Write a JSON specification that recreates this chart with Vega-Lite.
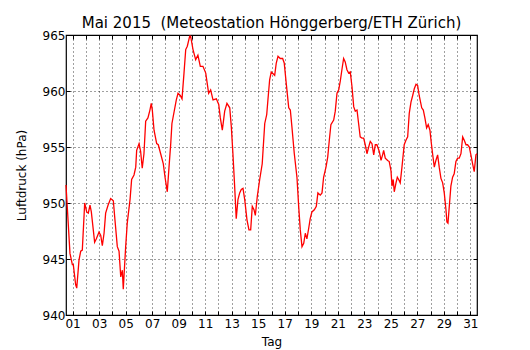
{
  "$schema": "https://vega.github.io/schema/vega-lite/v6.json",
  "width": 411,
  "height": 280,
  "autosize": {"type": "none"},
  "padding": {"left": 66, "top": 35, "right": 53, "bottom": 35},
  "background": "white",
  "title": {"text": "Mai 2015\u00a0 (Meteostation Hönggerberg/ETH Zürich)", "font": "DejaVu Sans", "fontSize": 15, "fontWeight": "normal", "color": "black", "offset": -2, "anchor": "middle"},
  "config": {
    "view": {"stroke": "black", "strokeWidth": 1.2},
    "axis": {"labelFont": "DejaVu Sans", "titleFont": "DejaVu Sans", "labelFontSize": 12, "titleFontSize": 12, "titleFontWeight": "normal", "labelColor": "black", "titleColor": "black", "domain": false, "tickColor": "black", "tickSize": -4, "gridColor": "black", "gridDash": [1, 3], "gridOpacity": 0.75, "gridWidth": 1}
  },
  "data": {"values": [
    {"d":0.50,"p":951.6},{"d":0.80,"p":945.5},{"d":0.98,"p":944.5},{"d":1.05,"p":944.5},{"d":1.23,"p":942.7},{"d":1.31,"p":942.4},{"d":1.48,"p":944.9},{"d":1.61,"p":945.7},{"d":1.73,"p":945.8},{"d":1.91,"p":950.0},{"d":2.06,"p":949.2},{"d":2.18,"p":949.1},{"d":2.31,"p":949.8},{"d":2.41,"p":949.2},{"d":2.66,"p":946.5},{"d":2.79,"p":946.8},{"d":2.99,"p":947.4},{"d":3.12,"p":947.1},{"d":3.24,"p":946.2},{"d":3.37,"p":947.3},{"d":3.49,"p":949.1},{"d":3.67,"p":949.8},{"d":3.87,"p":950.4},{"d":4.07,"p":950.2},{"d":4.17,"p":948.8},{"d":4.37,"p":946.1},{"d":4.50,"p":945.7},{"d":4.63,"p":943.4},{"d":4.75,"p":944.0},{"d":4.82,"p":942.3},{"d":5.00,"p":946.1},{"d":5.12,"p":948.2},{"d":5.33,"p":950.3},{"d":5.45,"p":952.1},{"d":5.63,"p":952.5},{"d":5.76,"p":953.2},{"d":5.83,"p":954.7},{"d":6.01,"p":955.3},{"d":6.13,"p":954.6},{"d":6.25,"p":953.1},{"d":6.38,"p":954.4},{"d":6.51,"p":957.3},{"d":6.68,"p":957.6},{"d":6.83,"p":958.3},{"d":6.93,"p":958.9},{"d":7.01,"p":958.3},{"d":7.14,"p":956.5},{"d":7.34,"p":955.3},{"d":7.46,"p":955.2},{"d":7.64,"p":954.4},{"d":7.84,"p":953.5},{"d":7.97,"p":952.3},{"d":8.14,"p":951.0},{"d":8.27,"p":953.2},{"d":8.40,"p":955.3},{"d":8.49,"p":957.1},{"d":8.82,"p":959.2},{"d":8.95,"p":959.8},{"d":9.12,"p":959.6},{"d":9.25,"p":959.3},{"d":9.40,"p":961.6},{"d":9.53,"p":963.7},{"d":9.65,"p":964.0},{"d":9.83,"p":964.9},{"d":9.90,"p":964.9},{"d":10.08,"p":963.7},{"d":10.28,"p":962.8},{"d":10.45,"p":963.2},{"d":10.63,"p":962.2},{"d":10.83,"p":962.2},{"d":11.04,"p":961.6},{"d":11.26,"p":959.8},{"d":11.41,"p":960.1},{"d":11.59,"p":959.2},{"d":11.84,"p":959.3},{"d":12.02,"p":958.8},{"d":12.14,"p":957.6},{"d":12.29,"p":956.5},{"d":12.47,"p":958.2},{"d":12.64,"p":958.9},{"d":12.85,"p":958.5},{"d":12.97,"p":956.8},{"d":13.09,"p":954.4},{"d":13.22,"p":951.5},{"d":13.34,"p":948.6},{"d":13.47,"p":950.3},{"d":13.60,"p":950.9},{"d":13.72,"p":951.2},{"d":13.85,"p":951.3},{"d":13.98,"p":950.3},{"d":14.15,"p":948.5},{"d":14.30,"p":947.6},{"d":14.43,"p":947.6},{"d":14.55,"p":949.7},{"d":14.68,"p":949.4},{"d":14.78,"p":948.9},{"d":14.93,"p":950.6},{"d":15.11,"p":952.1},{"d":15.30,"p":953.5},{"d":15.49,"p":957.1},{"d":15.64,"p":957.9},{"d":15.73,"p":959.2},{"d":15.86,"p":961.0},{"d":15.98,"p":961.7},{"d":16.24,"p":961.4},{"d":16.36,"p":962.5},{"d":16.49,"p":963.1},{"d":16.66,"p":962.9},{"d":16.84,"p":962.9},{"d":16.96,"p":962.5},{"d":17.11,"p":960.7},{"d":17.30,"p":958.5},{"d":17.42,"p":958.3},{"d":17.54,"p":956.8},{"d":17.72,"p":954.4},{"d":17.92,"p":952.3},{"d":18.05,"p":949.7},{"d":18.17,"p":947.6},{"d":18.30,"p":946.1},{"d":18.43,"p":946.4},{"d":18.55,"p":947.3},{"d":18.67,"p":946.8},{"d":18.80,"p":947.7},{"d":18.92,"p":948.6},{"d":19.05,"p":949.2},{"d":19.23,"p":949.4},{"d":19.38,"p":949.7},{"d":19.50,"p":950.9},{"d":19.68,"p":950.7},{"d":19.81,"p":950.9},{"d":19.93,"p":952.3},{"d":20.11,"p":953.2},{"d":20.24,"p":954.1},{"d":20.36,"p":955.6},{"d":20.48,"p":957.0},{"d":20.69,"p":957.4},{"d":20.81,"p":958.2},{"d":20.94,"p":959.8},{"d":21.07,"p":960.1},{"d":21.19,"p":960.9},{"d":21.31,"p":961.9},{"d":21.44,"p":962.9},{"d":21.56,"p":962.6},{"d":21.69,"p":961.9},{"d":21.82,"p":961.6},{"d":21.94,"p":961.7},{"d":22.07,"p":960.4},{"d":22.20,"p":958.6},{"d":22.32,"p":958.2},{"d":22.45,"p":958.3},{"d":22.57,"p":957.1},{"d":22.69,"p":955.9},{"d":22.82,"p":955.8},{"d":22.95,"p":955.8},{"d":23.07,"p":955.2},{"d":23.20,"p":954.4},{"d":23.33,"p":955.0},{"d":23.45,"p":955.5},{"d":23.58,"p":955.3},{"d":23.71,"p":954.3},{"d":23.83,"p":955.2},{"d":23.95,"p":955.2},{"d":24.13,"p":954.6},{"d":24.26,"p":953.8},{"d":24.38,"p":954.3},{"d":24.46,"p":954.7},{"d":24.58,"p":954.0},{"d":24.76,"p":953.8},{"d":24.88,"p":953.7},{"d":25.01,"p":952.9},{"d":25.09,"p":951.5},{"d":25.18,"p":952.1},{"d":25.26,"p":951.0},{"d":25.39,"p":951.8},{"d":25.49,"p":952.3},{"d":25.59,"p":952.1},{"d":25.71,"p":951.8},{"d":25.84,"p":953.2},{"d":26.01,"p":955.2},{"d":26.14,"p":955.6},{"d":26.27,"p":955.9},{"d":26.39,"p":958.0},{"d":26.52,"p":959.0},{"d":26.65,"p":959.6},{"d":26.77,"p":960.2},{"d":26.90,"p":960.6},{"d":27.02,"p":960.5},{"d":27.14,"p":959.6},{"d":27.33,"p":958.5},{"d":27.45,"p":958.3},{"d":27.57,"p":957.6},{"d":27.70,"p":956.7},{"d":27.82,"p":957.0},{"d":27.95,"p":956.5},{"d":28.03,"p":955.6},{"d":28.15,"p":954.4},{"d":28.28,"p":953.2},{"d":28.40,"p":953.8},{"d":28.53,"p":954.3},{"d":28.65,"p":953.2},{"d":28.78,"p":952.2},{"d":28.91,"p":951.8},{"d":29.03,"p":950.9},{"d":29.16,"p":949.4},{"d":29.23,"p":948.3},{"d":29.31,"p":948.2},{"d":29.41,"p":949.7},{"d":29.53,"p":951.5},{"d":29.66,"p":952.3},{"d":29.78,"p":952.6},{"d":29.91,"p":953.7},{"d":30.04,"p":954.0},{"d":30.16,"p":954.0},{"d":30.29,"p":954.4},{"d":30.42,"p":955.9},{"d":30.54,"p":955.6},{"d":30.67,"p":955.2},{"d":30.79,"p":955.2},{"d":30.92,"p":955.0},{"d":31.04,"p":954.3},{"d":31.17,"p":953.5},{"d":31.29,"p":952.8},{"d":31.42,"p":954.3},{"d":31.50,"p":954.4}
  ]},
  "layer": [
    {
      "mark": {"type": "line", "color": "#ff0000", "strokeWidth": 1.3},
      "encoding": {
        "x": {"field": "d", "type": "quantitative", "scale": {"domain": [0.5, 31.5], "nice": false, "zero": false},
          "axis": {"orient": "bottom", "title": "Tag", "titlePadding": 7, "values": [1,2,3,4,5,6,7,8,9,10,11,12,13,14,15,16,17,18,19,20,21,22,23,24,25,26,27,28,29,30,31], "labelExpr": "datum.value % 2 == 1 ? (datum.value < 10 ? '0' + datum.value : '' + datum.value) : ''", "labelPadding": 7, "grid": true, "labelOverlap": false}},
        "y": {"field": "p", "type": "quantitative", "scale": {"domain": [940, 965], "nice": false, "zero": false},
          "axis": {"orient": "left", "title": "Luftdruck (hPa)", "values": [940, 945, 950, 955, 960, 965], "labelPadding": 5, "titlePadding": 14, "grid": true}}
      }
    },
    {
      "mark": {"type": "line", "opacity": 0},
      "encoding": {
        "x": {"field": "d", "type": "quantitative", "axis": {"orient": "top", "title": null, "labels": false, "grid": false, "values": [1,2,3,4,5,6,7,8,9,10,11,12,13,14,15,16,17,18,19,20,21,22,23,24,25,26,27,28,29,30,31]}},
        "y": {"field": "p", "type": "quantitative", "axis": {"orient": "right", "title": null, "labels": false, "grid": false, "values": [940, 945, 950, 955, 960, 965]}}
      }
    }
  ]
}
